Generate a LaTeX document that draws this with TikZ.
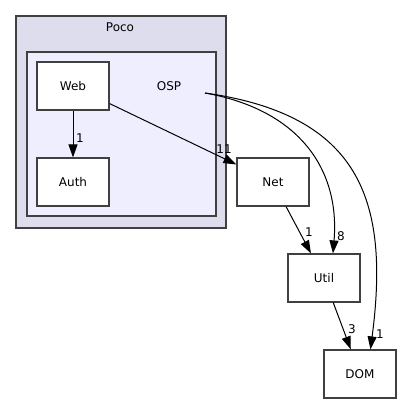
\documentclass[tikz,border=0pt]{standalone}
\usepackage{fontspec}
\setmainfont{DejaVu Sans}
\usepackage{tikz}
\usetikzlibrary{arrows.meta,calc,positioning}
\tikzset{>={Triangle[length=13pt,width=9pt]}}
\definecolor{pocofill}{HTML}{DDDDEE}
\definecolor{ospfill}{HTML}{EEEEFF}
\definecolor{frame}{HTML}{404040}
\tikzset{
  dirbox/.style={draw=frame, fill=white, line width=1.2pt, minimum width=72pt, minimum height=48pt, inner sep=0pt},
  dep/.style={->, line width=1pt},
  cnt/.style={inner sep=0pt, font=\fontsize{12}{14}\selectfont}
}

\begin{document}
\begin{tikzpicture}[x=1pt,y=-1pt,font=\fontsize{12}{14}\selectfont]
            \useasboundingbox (0,0) rectangle (401,404);
            % clusters
            \draw[fill=pocofill, draw=frame, line width=1.3pt] (16,16) rectangle (226,228);
            \node (poco) at (120,27) {Poco};
            \draw[fill=ospfill, draw=frame, line width=1.3pt] (27,52) rectangle (216,216);
            \node (osplabel) at (169,86) {OSP};
            \coordinate (osp) at (205,93);

            % directories
            \node[dirbox] (web) at (73,86) {Web};
            \node[dirbox] (auth) at (73,182) {Auth};
            \node[dirbox] (net) at (273,182) {Net};
            \node[dirbox] (util) at (324,278) {Util};
            \node[dirbox] (dom) at (360,374) {DOM};

            % dependencies
            \draw[dep] (web) -- (auth);
            \node[cnt] (l1) at (80,138) {1};
            \draw[dep] (web) -- (net);
            \node[cnt] (l2) at (224,149) {11};
            \draw[dep] (osp) .. controls (300,110) and (340,170) .. (util.70);
            \node[cnt] (l3) at (341,236) {8};
            \draw[dep] (osp) .. controls (360,115) and (390,200) .. (dom.67);
            \node[cnt] (l4) at (380,334) {1};
            \draw[dep] (net) -- (util);
            \node[cnt] (l5) at (309,232) {1};
            \draw[dep] (util) -- (dom);
            \node[cnt] (l6) at (352,329) {3};
        \end{tikzpicture}
\end{document}
